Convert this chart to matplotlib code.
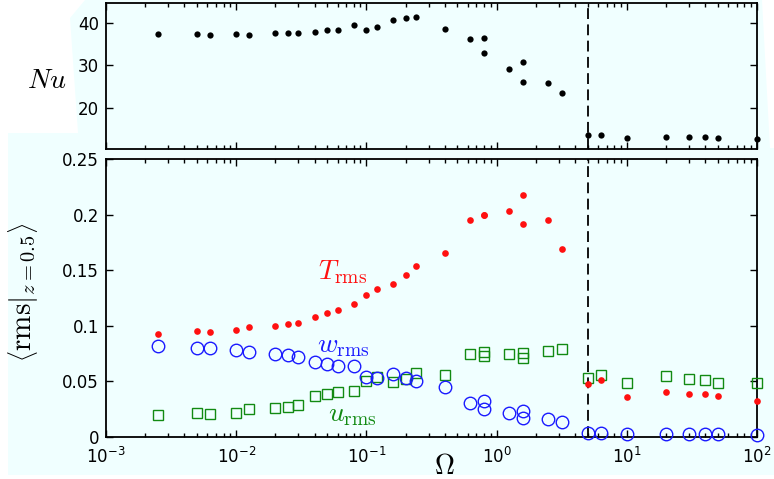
import matplotlib
matplotlib.use('Agg')
import matplotlib.pyplot as plt
from matplotlib.ticker import FixedLocator, FixedFormatter, LogLocator, NullFormatter
from matplotlib.patches import Polygon

# ---------------- data ----------------
omega = [0.0025, 0.005, 0.0063, 0.01, 0.0125, 0.02, 0.025, 0.03, 0.04, 0.05, 0.06, 0.08,
         0.1, 0.12, 0.16, 0.2, 0.24,
         0.4, 0.63, 0.8, 0.8, 1.25, 1.6, 1.6, 2.5, 3.2, 5, 6.3, 10, 20, 30, 40, 50, 100]
nu = [37.4, 37.4, 37.3, 37.4, 37.3, 37.6, 37.7, 37.7, 37.9, 38.3, 38.3, 39.5,
      38.3, 39.2, 40.7, 41.2, 41.5,
      38.7, 36.2, 36.6, 33.0, 29.2, 30.8, 26.0, 25.8, 23.4, 13.4, 13.4, 12.7, 13.0, 12.9, 12.9, 12.7, 12.5]
t_rms = [0.0928, 0.0950, 0.0941, 0.0962, 0.0991, 0.1000, 0.1013, 0.1027, 0.1076, 0.1115, 0.1142, 0.1193,
         0.1277, 0.1334, 0.1376, 0.1455, 0.1536,
         0.1656, 0.1953, 0.2001, 0.1995, 0.2031, 0.2181, 0.1914, 0.1956, 0.1694, 0.0472, 0.0508, 0.0360,
         0.0403, 0.0382, 0.0382, 0.0364, 0.0324]
w_rms = [0.0817, 0.0799, 0.0799, 0.0781, 0.0766, 0.0748, 0.0736, 0.0718, 0.0673, 0.0655, 0.0637, 0.0637,
         0.0538, 0.0532, 0.0565, 0.0526, 0.0505,
         0.0445, 0.0306, 0.0319, 0.0252, 0.0211, 0.0232, 0.0171, 0.0160, 0.0130, 0.0033, 0.0030, 0.0027,
         0.0027, 0.0026, 0.0026, 0.0026, 0.0013]
u_rms = [0.0196, 0.0216, 0.0202, 0.0216, 0.0252, 0.0255, 0.0268, 0.0288, 0.0364, 0.0388, 0.0406, 0.0412,
         0.0502, 0.0535, 0.0490, 0.0523, 0.0578,
         0.0556, 0.0745, 0.0762, 0.0725, 0.0745, 0.0755, 0.0712, 0.0775, 0.0788, 0.0532, 0.0553, 0.0481,
         0.0550, 0.0520, 0.0511, 0.0481, 0.0484]
omega_c = 5.0

x_ticks = [1e-3, 1e-2, 1e-1, 1e0, 1e1, 1e2]
x_ticklabels = ['$10^{-3}$', '$10^{-2}$', '$10^{-1}$', '$10^{0}$', '$10^{1}$', '$10^{2}$']
nu_ticks = [20, 30, 40]
nu_ticklabels = ['20', '30', '40']
rms_ticks = [0, 0.05, 0.1, 0.15, 0.2, 0.25]
rms_ticklabels = ['0', '0.05', '0.1', '0.15', '0.2', '0.25']

# ---------------- style ----------------
BG = '#f0ffff'
RED = '#ff1010'
BLUE = '#1a1aff'
GREEN = '#128a12'
W, H = 774, 479

plt.rcParams['font.family'] = ['DejaVu Sans']
plt.rcParams['mathtext.fontset'] = 'dejavusans'

fig = plt.figure(figsize=(W / 100, H / 100), dpi=100, facecolor=BG)

def fx(x):
    return x / W

def fy(y):
    return 1 - y / H

# white background artifacts of the original
for poly in ([(0, 0), (85, 0), (70, 18), (78, 133), (8, 133), (8, 479), (0, 479)],
             [(762, 0), (774, 0), (774, 148), (770, 148)],
             [(0, 475), (774, 475), (774, 479), (0, 479)]):
    fig.patches.append(Polygon([(fx(a), fy(b)) for a, b in poly], closed=True,
                               transform=fig.transFigure, facecolor='white',
                               edgecolor='none', zorder=-10))

ax1 = fig.add_axes([fx(106), fy(149.3), fx(651), 146.3 / H])
ax2 = fig.add_axes([fx(106), fy(436.7), fx(651), 277.4 / H])

for ax in (ax1, ax2):
    ax.set_facecolor(BG)
    ax.set_xscale('log')
    ax.set_xlim(1e-3, 1e2)
    ax.xaxis.set_major_locator(FixedLocator(x_ticks))
    ax.xaxis.set_minor_locator(LogLocator(base=10, subs=range(2, 10), numticks=20))
    ax.xaxis.set_minor_formatter(NullFormatter())
    ax.tick_params(which='both', direction='in', top=True, right=True, width=1.0,
                   labelsize=12, color='black')
    ax.tick_params(which='major', length=5, pad=5)
    ax.tick_params(which='minor', length=3)
    for sp in ax.spines.values():
        sp.set_linewidth(1.3)
    ax.axvline(omega_c, color='black', lw=1.3, dashes=(6, 3), zorder=1)

# top panel
ax1.plot(omega, nu, 'o', color='black', ms=4.5, mec='none', clip_on=False, zorder=5)
ax1.set_ylim(10.1, 44.8)
ax1.yaxis.set_major_locator(FixedLocator(nu_ticks))
ax1.yaxis.set_major_formatter(FixedFormatter(nu_ticklabels))
ax1.set_xticklabels([])

# bottom panel
ax2.plot(omega, u_rms, 's', mfc='none', mec=GREEN, mew=1.0, ms=6.5, clip_on=False, zorder=4)
ax2.plot(omega, w_rms, 'o', mfc='none', mec=BLUE, mew=1.0, ms=9, clip_on=False, zorder=5)
ax2.plot(omega, t_rms, 'o', color=RED, mec='none', ms=4.8, clip_on=False, zorder=6)
ax2.set_ylim(0, 0.25)
ax2.yaxis.set_major_locator(FixedLocator(rms_ticks))
ax2.yaxis.set_major_formatter(FixedFormatter(rms_ticklabels))
ax2.set_xticklabels(x_ticklabels)
ax2.tick_params(axis='x', which='major', pad=7)

ax2.text(0.066, 0.1487, r'$T_{\mathrm{rms}}$', color=RED, fontsize=20,
         ha='center', va='center', math_fontfamily='cm')
ax2.text(0.067, 0.0826, r'$w_{\mathrm{rms}}$', color=BLUE, fontsize=20,
         ha='center', va='center', math_fontfamily='cm')
ax2.text(0.0775, 0.0205, r'$u_{\mathrm{rms}}$', color=GREEN, fontsize=20,
         ha='center', va='center', math_fontfamily='cm')

fig.text(fx(46.7), fy(80), r'$Nu$', fontsize=20, ha='center', va='center',
         math_fontfamily='cm')
fig.text(fx(23), fy(292), r'$\left\langle \mathrm{rms}|_{z=0.5} \right\rangle$',
         fontsize=21, ha='center', va='center', rotation=90, math_fontfamily='cm')
fig.text(fx(444), fy(466), r'$\Omega$', fontsize=20, ha='center', va='center',
         math_fontfamily='cm')

fig.savefig('out.png', dpi=100, facecolor=fig.get_facecolor())
